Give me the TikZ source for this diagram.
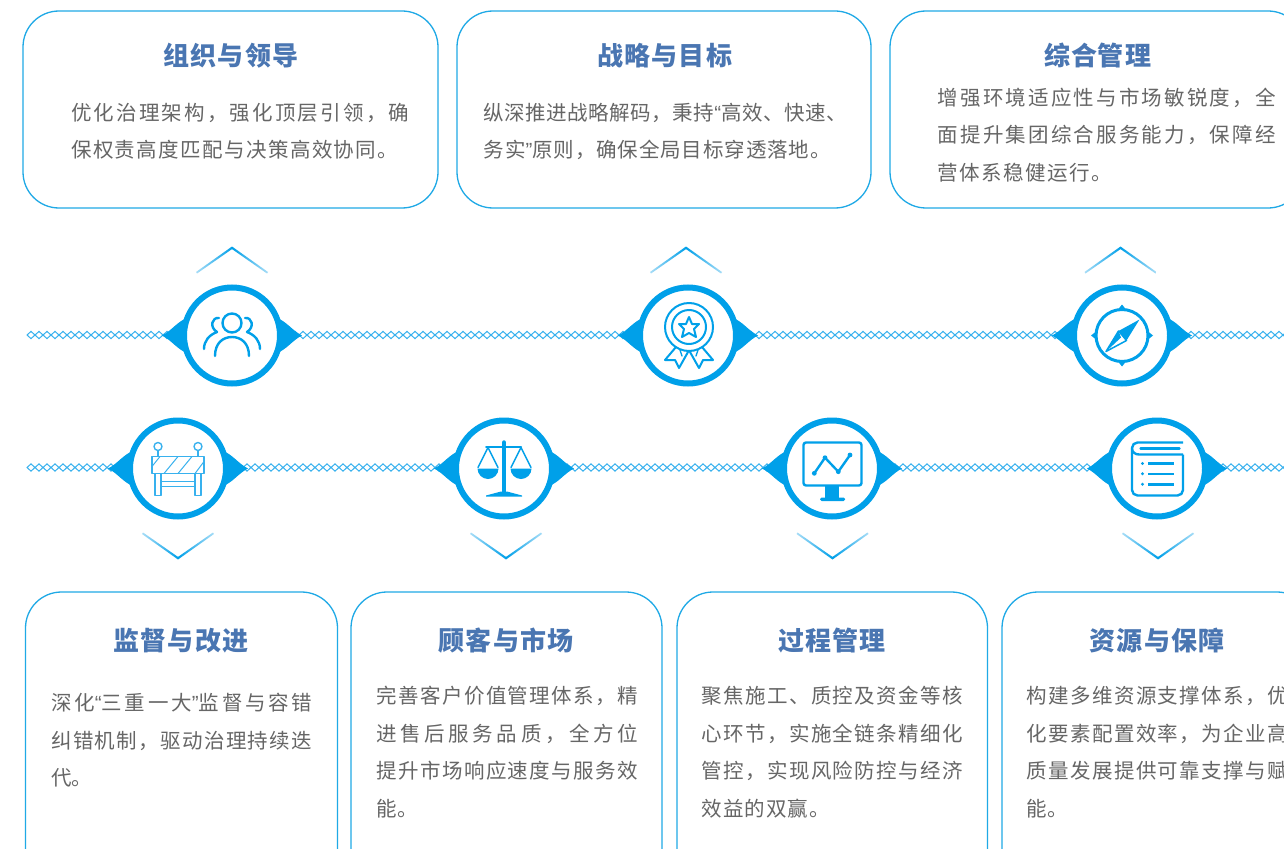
\documentclass[tikz,border=0pt]{standalone}
\usepackage{fontspec}
\setmainfont{Noto Sans CJK SC}
\newfontfamily\quotefont{Liberation Sans}
\usetikzlibrary{shadings}
\definecolor{brandblue}{HTML}{00A0E9}
\definecolor{chainblue}{HTML}{38B1EE}
\definecolor{cardline}{HTML}{1FA9E6}
\definecolor{titleblue}{HTML}{4A76B2}
\definecolor{bodygray}{HTML}{666666}
\definecolor{fadeblue}{HTML}{A8DDF7}
\newcount\cjkc
\XeTeXinterchartokenstate=1
\newcommand{\setclass}[2]{\cjkc=#1 \loop\ifnum\cjkc<#2 \XeTeXcharclass\cjkc=7 \advance\cjkc by 1 \repeat}
\setclass{"4E00}{"A000}
\setclass{"3001}{"3003}
\setclass{"FF0C}{"FF0D}
\XeTeXinterchartoks 7 7 = {\hskip 0pt plus 1fil\relax}
\newcommand{\qq}[1]{{\quotefont #1}}
\tikzset{
  card/.style={draw=cardline,line width=1.3pt,rounded corners=36pt},
  titletext/.style={inner sep=0pt,text=titleblue,font=\fontsize{26}{30}\selectfont\bfseries},
  bodytext/.style={inner sep=0pt,anchor=west,text=bodygray,font=\fontsize{20.5}{24}\selectfont},
  chainlink/.style={draw=chainblue,line width=1pt,fill=white},
  disc/.style={circle,draw=brandblue,line width=6pt,fill=white,minimum size=96pt,inner sep=0pt},
  ic/.style={draw=brandblue,line width=2.4pt,line cap=round,line join=round},
  icthin/.style={draw=chainblue,line width=1.4pt,line join=round},
  icf/.style={fill=brandblue}
}
\newcommand{\bl}[5]{\node[bodytext] (#1) at (#2,#3) {\makebox[#4pt][s]{#5}};}
\newcommand{\ttl}[5]{\node[titletext] (#1) at (#2,#3) {\makebox[#4pt][s]{#5}};}
\newcommand{\chain}[3]{\foreach \k in {0,...,#3}{\path[chainlink] ({#1+8*\k},#2-3.6) -- ({#1+8*\k+4},#2) -- ({#1+8*\k},#2+3.6) -- ({#1+8*\k-4},#2) -- cycle;}}
\newcommand{\hub}[3]{%
  \fill[brandblue] (#2-70,#3) .. controls (#2-60,#3-5) and (#2-55,#3-14) .. (#2-44,#3-18) -- (#2-44,#3+18) .. controls (#2-55,#3+14) and (#2-60,#3+5) .. (#2-70,#3) -- cycle;
  \fill[brandblue] (#2+70,#3) .. controls (#2+60,#3-5) and (#2+55,#3-14) .. (#2+44,#3-18) -- (#2+44,#3+18) .. controls (#2+55,#3+14) and (#2+60,#3+5) .. (#2+70,#3) -- cycle;
  \node[disc] (#1) at (#2,#3) {};}
\newcommand{\chevup}[2]{\shade[left color=fadeblue,right color=fadeblue,middle color=brandblue] (#1-35,#2+27) -- (#1-36,#2+25.5) -- (#1,#2) -- (#1+36,#2+25.5) -- (#1+35,#2+27) -- (#1,#2+2.6) -- cycle;}
\newcommand{\chevdown}[2]{\shade[left color=fadeblue,right color=fadeblue,middle color=brandblue] (#1-35,#2-27) -- (#1-36,#2-25.5) -- (#1,#2) -- (#1+36,#2-25.5) -- (#1+35,#2-27) -- (#1,#2-2.6) -- cycle;}
\begin{document}
\begin{tikzpicture}[x=1pt,y=-1pt]
\useasboundingbox (0,0) rectangle (1284,848);
\clip (0,0) rectangle (1284,848);
\fill[white] (0,0) rectangle (1284,848);
% cards
\draw[card] (23,11) rectangle (438,208);
\draw[card] (457,11) rectangle (871,208);
\draw[card] (890,11) rectangle (1304,208);
\draw[card] (25.5,592) rectangle (337.5,900);
\draw[card] (351,592) rectangle (662,900);
\draw[card] (677,592) rectangle (987.5,900);
\draw[card] (1002,592) rectangle (1313,900);
% titles
\ttl{t1}{231}{56}{135}{组织与领导}
\ttl{t2}{664.5}{56}{135}{战略与目标}
\ttl{t3}{1097.5}{56}{107}{综合管理}
\ttl{t4}{181}{641}{135}{监督与改进}
\ttl{t5}{506}{641}{135}{顾客与市场}
\ttl{t6}{832}{641}{107}{过程管理}
\ttl{t7}{1157}{641}{135}{资源与保障}
% body
\bl{a1}{71}{112.5}{338}{优化治理架构，强化顶层引领，确}
\bl{a2}{71}{150}{327}{保权责高度匹配与决策高效协同。}
\bl{b1}{483.5}{112.5}{363}{纵深推进战略解码，秉持\qq{“}高效、快速、}
\bl{b2}{483.5}{150}{347}{务实\qq{”}原则，确保全局目标穿透落地。}
\bl{c1}{937.5}{97.5}{338}{增强环境适应性与市场敏锐度，全}
\bl{c2}{937.5}{135}{338}{面提升集团综合服务能力，保障经}
\bl{c3}{937.5}{172.5}{174}{营体系稳健运行。}
\bl{d1}{51}{703}{261}{深化\qq{“}三重一大\qq{”}监督与容错}
\bl{d2}{51}{740.5}{261}{纠错机制，驱动治理持续迭}
\bl{d3}{51}{778}{40}{代。}
\bl{e1}{376.5}{696}{261}{完善客户价值管理体系，精}
\bl{e2}{376.5}{733.5}{261}{进售后服务品质，全方位}
\bl{e3}{376.5}{771}{261}{提升市场响应速度与服务效}
\bl{e4}{376.5}{808.5}{40}{能。}
\bl{f1}{701.5}{696}{261}{聚焦施工、质控及资金等核}
\bl{f2}{701.5}{733.5}{261}{心环节，实施全链条精细化}
\bl{f3}{701.5}{771}{261}{管控，实现风险防控与经济}
\bl{f4}{701.5}{808.5}{128}{效益的双赢。}
\bl{g1}{1026.5}{696}{261}{构建多维资源支撑体系，优}
\bl{g2}{1026.5}{733.5}{261}{化要素配置效率，为企业高}
\bl{g3}{1026.5}{771}{261}{质量发展提供可靠支撑与赋}
\bl{g4}{1026.5}{808.5}{40}{能。}
% chains
\chain{31}{335}{157}
\chain{31}{467.5}{157}
% hubs
\hub{h1}{232}{335.5}
\hub{h2}{688}{335.5}
\hub{h3}{1122}{335.5}
\hub{h4}{178}{468.5}
\hub{h5}{504}{468.5}
\hub{h6}{832}{468.5}
\hub{h7}{1157}{468.5}
% chevrons
\chevup{232}{246.5}
\chevup{686}{246.5}
\chevup{1120.5}{246.5}
\chevdown{178}{559.5}
\chevdown{506}{559.5}
\chevdown{832.5}{559.5}
\chevdown{1158}{559.5}
% people
\begin{scope}[shift={(232,335)}]
\draw[ic] (0,-12) circle (9.5);
\draw[ic] (-17,21) .. controls (-17,8) and (-9,2) .. (0,2) .. controls (9,2) and (17,8) .. (17,21);
\draw[ic] (-13,-17) .. controls (-20,-18) and (-23,-8) .. (-15,-3) .. controls (-23,0) and (-28,6) .. (-28,14);
\draw[ic] (13,-17) .. controls (20,-18) and (23,-8) .. (15,-3) .. controls (23,0) and (28,6) .. (28,14);
\end{scope}
% medal
\begin{scope}[shift={(689,335)}]
\draw[ic,line width=2pt] (0,-8) circle (24);
\draw[ic,line width=2pt] (0,-8) circle (17);
\draw[ic,line width=2pt] (0,-18) -- (3,-11) -- (10,-11) -- (5,-6) -- (7,2) -- (0,-2) -- (-7,2) -- (-5,-6) -- (-10,-11) -- (-3,-11) -- cycle;
\draw[ic,line width=2pt] (-13,12) -- (-24,25) -- (-14,25) -- (-10,33) -- (-1,17);
\draw[ic,line width=2pt] (13,12) -- (24,25) -- (14,25) -- (10,33) -- (1,17);
\draw[ic,line width=1.3pt] (-9,15) -- (-7,21);
\draw[ic,line width=1.3pt] (9,15) -- (7,21);
\end{scope}
% compass
\begin{scope}[shift={(1122,335.5)}]
\draw[ic,line width=3pt] (0,0) circle (26);
\fill[brandblue] (0,-31) -- (4,-26) -- (-4,-26) -- cycle (0,31) -- (4,26) -- (-4,26) -- cycle (-31,0) -- (-26,4) -- (-26,-4) -- cycle (31,0) -- (26,4) -- (26,-4) -- cycle;
\fill[brandblue] (17.5,-16) -- (-3.5,-4.5) -- (4.5,5) -- cycle;
\draw[ic,line width=1.5pt,fill=white] (-16,16) -- (-3.5,-4.5) -- (4.5,5) -- cycle;
\fill[brandblue] (-16,16) -- (-3.5,-4.5) -- (-1,2) -- cycle;
\end{scope}
% barrier
\begin{scope}[shift={(178,467.5)}]
\draw[icthin] (-26,-11) rectangle (26,6);
\draw[icthin] (-20,-21) circle (4);
\draw[icthin] (20,-21) circle (4);
\draw[icthin] (-20,-17) -- (-20,-11);
\draw[icthin] (20,-17) -- (20,-11);
\draw[icthin] (-23,6) rectangle (-17,28);
\draw[icthin] (17,6) rectangle (23,28);
\draw[icthin] (-17,14) -- (17,14) (-17,19) -- (17,19);
\draw[icthin,line width=1pt] (-26,-1) -- (-18,-11) (-14,6) -- (0,-11) (0,6) -- (14,-11) (17,6) -- (26,-6);
\end{scope}
% scales
\begin{scope}[shift={(504,467.5)}]
\draw[ic,line width=4.5pt] (0,-25) -- (0,25);
\fill[brandblue] (-18,29) -- (18,29) -- (18,28) -- (3,24) -- (-3,24) -- (-18,28) -- cycle;
\draw[ic,line width=2pt] (-18,-21) -- (17,-21);
\draw[ic,line width=1.5pt] (-16,-20) -- (-26,0) (-16,-20) -- (-6,0) (17,-20) -- (7,0) (17,-20) -- (27,0);
\fill[brandblue] (-26.5,1) arc[start angle=180,end angle=0,radius=10.5] -- cycle;
\fill[brandblue] (6.5,1) arc[start angle=180,end angle=0,radius=10.5] -- cycle;
\end{scope}
% monitor
\begin{scope}[shift={(832,468)}]
\draw[ic,rounded corners=2.5pt] (-28.5,-25.5) rectangle (29.5,17.5);
\draw[ic] (-17.7,5.3) -- (-7,-10.3) -- (6.3,3.7) -- (18,-13);
\foreach \p in {(-17.7,5.3),(-7,-10.3),(6.3,3.7),(18,-13)} \fill[brandblue] \p circle (2.4);
\fill[brandblue] (-7,18) rectangle (7.3,30);
\fill[brandblue,rounded corners=1.5pt] (-12,29.5) rectangle (13,33);
\end{scope}
% book
\begin{scope}[shift={(1157,468)}]
\draw[ic,line cap=butt,rounded corners=5.5pt] (26,-25.5) -- (-25,-25.5) -- (-25,27.5) -- (26,27.5) -- (26,-13.5);
\draw[ic,line cap=butt] (26,-13.5) -- (-18,-13.5) .. controls (-22,-13.5) and (-25,-16) .. (-25,-19.5);
\draw[ic] (-16.5,-19.5) -- (22.5,-19.5);
\foreach \y in {-4.5,5.8,16.3} {\fill[brandblue] (-14.5,\y) circle (1.6); \draw[ic,line cap=butt] (-8.7,\y) -- (17,\y);}
\end{scope}
\end{tikzpicture}
\end{document}
